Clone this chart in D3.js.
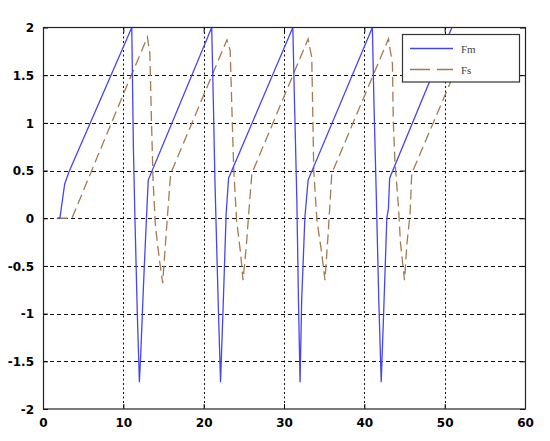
<!DOCTYPE html>
<html>
<head>
<meta charset="utf-8">
<script src="https://cdn.jsdelivr.net/npm/d3@7"></script>
<style>
  html, body { margin: 0; padding: 0; background: #fff; }
  svg { display: block; }
</style>
</head>
<body>
<script>
// ---- data ----
const fmX = [1.8, 2.1, 2.7, 3.2, 11.05, 11.25, 11.45, 11.74, 12.0, 12.17, 12.5, 12.83, 13.1,
             21.0, 21.2, 21.4, 21.8, 22.1, 22.45, 22.8, 23.1,
             31.1, 31.3, 31.6, 31.8, 32.0, 32.2, 32.6, 33.0,
             41.0, 41.2, 41.5, 41.8, 42.1, 42.4, 42.6, 42.8, 43.0, 43.15, 50.9];
const fmY = [0, 0, 0.36, 0.48, 2.0, 0.75, -0.02, -1.0, -1.72, -1.42, -0.72, -0.09, 0.4,
             2.0, 1.24, 0.4, -0.86, -1.72, -0.86, 0.05, 0.42,
             2.0, 1.24, 0.19, -0.86, -1.72, -0.86, 0.01, 0.4,
             2.0, 1.2, 0.2, -0.86, -1.72, -1.0, -0.5, 0.0, 0.1, 0.42, 2.0];
const fsX = [1.8, 3.6, 10.0, 13.0, 13.3, 13.5, 13.7, 14.0, 14.5, 14.9, 15.3, 15.7, 15.9,
             22.9, 23.3, 23.6, 23.75, 24.1, 24.6, 24.9, 25.3, 25.7, 26.0,
             33.0, 33.45, 33.6, 33.7, 34.1, 34.7, 35.1, 35.5, 35.95,
             43.0, 43.5, 43.6, 43.8, 44.25, 44.5, 45.0, 45.3, 45.7, 45.9, 51.0];
const fsY = [0, 0, 1.3, 1.9, 1.73, 1.03, 0.4, -0.09, -0.44, -0.68, -0.2, 0.26, 0.47,
             1.87, 1.76, 0.9, 0.5, -0.02, -0.37, -0.65, -0.3, 0.15, 0.47,
             1.88, 1.69, 1.03, 0.5, -0.02, -0.37, -0.65, -0.16, 0.47,
             1.88, 1.62, 1.03, 0.61, 0.12, -0.26, -0.65, -0.27, 0.05, 0.47, 1.48];
const xTicks = [0, 10, 20, 30, 40, 50, 60];
const yTicks = [-2, -1.5, -1, -0.5, 0, 0.5, 1, 1.5, 2];
const seriesNames = ["Fm", "Fs"];

// ---- layout ----
const W = 550, H = 441;
const L = 43, R = 525, T = 27.5, B = 409;
const blue = "#4646f0", brown = "#a47a50";

const svg = d3.select("body").append("svg").attr("width", W).attr("height", H);

const x = d3.scaleLinear().domain([0, 60]).range([L, R]);
const y = d3.scaleLinear().domain([-2, 2]).range([B, T]);

// grid
const grid = svg.append("g");
grid.selectAll("line.h").data(yTicks.filter(v => v > -2 && v < 2)).join("line")
  .attr("x1", L).attr("x2", R)
  .attr("y1", d => Math.round(y(d)) + 0.5).attr("y2", d => Math.round(y(d)) + 0.5)
  .attr("stroke", "#111").attr("stroke-width", 1).attr("stroke-dasharray", "4,3");
grid.selectAll("line.v").data(xTicks.filter(v => v > 0 && v < 60)).join("line")
  .attr("y1", T).attr("y2", B)
  .attr("x1", d => Math.round(x(d)) + 0.5).attr("x2", d => Math.round(x(d)) + 0.5)
  .attr("stroke", "#111").attr("stroke-width", 1).attr("stroke-dasharray", "2,2.5");

// lines
const clip = svg.append("clipPath").attr("id", "clip").append("rect")
  .attr("x", L).attr("y", T).attr("width", R - L).attr("height", B - T);
const line = d3.line().x(d => x(d[0])).y(d => y(d[1]));
const fm = fmX.map((v, i) => [v, fmY[i]]);
const fs = fsX.map((v, i) => [v, fsY[i]]);
svg.append("path").datum(fs).attr("d", line).attr("clip-path", "url(#clip)")
  .attr("fill", "none").attr("stroke", brown).attr("stroke-width", 1.3)
  .attr("stroke-dasharray", "10,5");
svg.append("path").datum(fm).attr("d", line).attr("clip-path", "url(#clip)")
  .attr("fill", "none").attr("stroke", blue).attr("stroke-width", 1.3);

// axes
const fontFam = "'DejaVu Sans', sans-serif";
const xb = svg.append("g").attr("transform", `translate(0,${B})`)
  .call(d3.axisBottom(x).tickValues(xTicks).tickSizeInner(-5).tickSizeOuter(0).tickPadding(9).tickFormat(d3.format("d")));
const yl = svg.append("g").attr("transform", `translate(${L},0)`)
  .call(d3.axisLeft(y).tickValues(yTicks).tickSizeInner(-5).tickSizeOuter(0).tickPadding(9).tickFormat(d => String(d)));
const xt = svg.append("g").attr("transform", `translate(0,${T})`)
  .call(d3.axisTop(x).tickValues(xTicks).tickSizeInner(-5).tickSizeOuter(0).tickFormat(""));
const yr = svg.append("g").attr("transform", `translate(${R},0)`)
  .call(d3.axisRight(y).tickValues(yTicks).tickSizeInner(-5).tickSizeOuter(0).tickFormat(""));
[xb, yl, xt, yr].forEach(g => {
  g.select(".domain").remove();
  g.selectAll("line").attr("stroke", "#000");
  g.selectAll("text").attr("font-family", fontFam).attr("font-size", 12)
    .attr("font-weight", "bold").attr("fill", "#000");
});
yl.selectAll("text").attr("dy", "0.36em");

// box
svg.append("rect").attr("x", L + 0.5).attr("y", T).attr("width", R - L).attr("height", B - T)
  .attr("fill", "none").attr("stroke", "#222").attr("stroke-width", 1.2);

// legend
const lg = svg.append("g");
lg.append("rect").attr("x", 402.5).attr("y", 34.5).attr("width", 117).attr("height", 47.5)
  .attr("fill", "#fff").attr("stroke", "#333").attr("stroke-width", 1.2);
const legendStyles = [{ c: blue, dash: null }, { c: brown, dash: "20,7" }];
seriesNames.forEach((name, i) => {
  const yy = 48.5 + i * 21;
  lg.append("line").attr("x1", 410).attr("x2", 453).attr("y1", yy).attr("y2", yy)
    .attr("stroke", legendStyles[i].c).attr("stroke-width", 1.3)
    .attr("stroke-dasharray", legendStyles[i].dash);
  lg.append("text").attr("x", 461).attr("y", yy + 4).text(name)
    .attr("font-family", "'Liberation Serif', serif").attr("font-size", 11)
    .attr("fill", "#444");
});
</script>
</body>
</html>
